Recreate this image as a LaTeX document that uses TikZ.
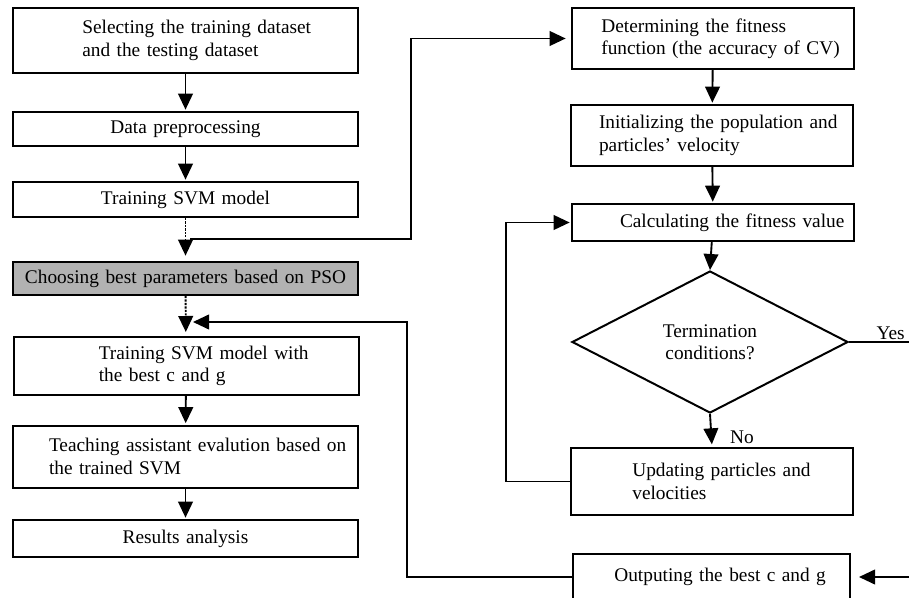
\documentclass[tikz,border=0pt]{standalone}
\usepackage{fontspec}
\setmainfont{Liberation Serif}
\usetikzlibrary{arrows.meta,shapes.geometric}

\begin{document}
\begin{tikzpicture}[x=0.75pt,y=-0.75pt,
    every node/.style={font=\fontsize{14.5}{16.8}\selectfont},
    box/.style={draw,line width=1.5pt,align=center,inner sep=2pt},
    ind/.style={align=left,execute at begin node={\leftskip=#1\rightskip=0pt plus 1fil minus 60pt}},
    lbox/.style={box,text width=254.75pt},
    rbox/.style={box,text width=207.5pt},
    arr/.style={line width=1.4pt,-{Triangle[length=12pt,width=11pt]}},
    dots/.style={arr,dash pattern=on 1.6pt off 1pt}]
      \useasboundingbox (0,0) rectangle (909,598);
      % left column
      \node[lbox,ind=50pt,minimum height=48.75pt] (sel) at (185.5,40.5) {Selecting the training dataset\\and the testing dataset};
      \node[lbox,minimum height=25.5pt] (pre) at (185.5,129) {Data preprocessing};
      \node[lbox,minimum height=26.25pt] (svm) at (185.5,199.5) {Training SVM model};
      \node[lbox,minimum height=24.75pt,fill=gray!60] (pso) at (185.5,278.5) {Choosing best parameters based on PSO};
      \node[lbox,ind=62pt,minimum height=43.5pt] (best) at (186,366) {Training SVM model with\\the best c and g};
      \node[lbox,ind=25pt,minimum height=46.5pt] (eval) at (185.5,456.5) {Teaching assistant evalution based on\\the trained SVM};
      \node[lbox,minimum height=27.75pt] (res) at (185.5,538.5) {Results analysis};
      % right column
      \node[rbox,ind=20pt,minimum height=45.75pt] (fit) at (713,38.5) {Determining the fitness\\function (the accuracy of CV)};
      \node[rbox,ind=19pt,minimum height=45.75pt] (init) at (712,135.5) {Initializing the population and\\particles' velocity};
      \node[rbox,ind=34pt,minimum height=27.75pt] (calc) at (713,222.5) {Calculating the fitness value};
      \node[draw,diamond,line width=1.5pt,minimum width=207pt,minimum height=106.5pt,inner sep=0pt,align=center] (term) at (710,342) {Termination\\conditions?};
      \node[rbox,ind=44pt,minimum height=50.25pt] (upd) at (712,481.5) {Updating particles and\\velocities};
      \node[box,ind=29pt,text width=203.75pt,minimum height=34.5pt] (out) at (711.5,577) {Outputing the best c and g};
      \coordinate (split) at (190,239);
      \coordinate (join) at (193,322);
      % connectors
      \draw[arr,shorten >=1pt] (sel) -- (pre);
      \draw[arr,shorten >=1pt] (pre) -- (svm);
      \draw[dots,shorten >=4pt] (svm) -- (pso);
      \draw[dots,shorten >=3pt] (pso) -- (best);
      \draw[arr,shorten >=1pt] (best) -- (eval);
      \draw[arr,shorten >=1pt] (eval) -- (res);
      \draw[arr,shorten >=4pt] (split) -- (411,239) |- (fit.west);
      \draw[arr,shorten >=1pt] (fit) -- (init);
      \draw[arr,shorten >=1pt] (init) -- (calc);
      \draw[arr,shorten >=0pt] (calc) -- (term.north);
      \draw[arr,shorten >=2pt] (term.south) -- node[pos=0.7,right,xshift=10pt] {No} (upd.north);
      \draw[arr,shorten >=1pt] (upd.west) -- ++(-64,0) |- (calc.west);
      \draw[arr,shorten >=6pt] (term.east) -- node[above,pos=0.63,inner sep=1pt] {Yes} (915,342) |- (out.east);
      \draw[arr] (out.west) -- (407,577) |- (join);
    \end{tikzpicture}
\end{document}
